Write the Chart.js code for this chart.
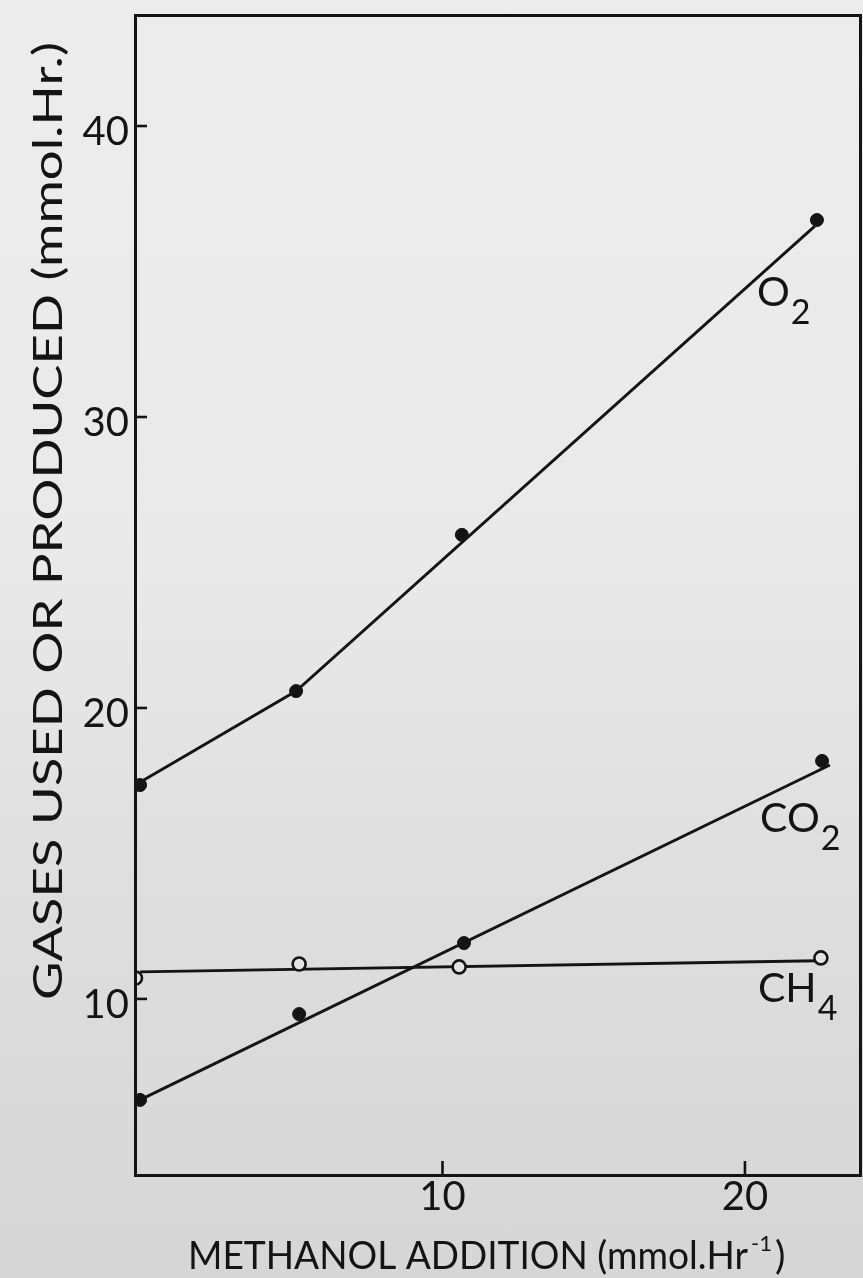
<!DOCTYPE html>
<html>
<head>
<meta charset="utf-8">
<script src="https://cdn.jsdelivr.net/npm/chart.js@4.4.1/dist/chart.umd.min.js"></script>
<style>
  html, body { margin: 0; padding: 0; }
  body {
    width: 863px; height: 1278px; overflow: hidden;
    background: linear-gradient(180deg, #ededed 0%, #e9e9e9 45%, #dedede 70%, #d6d6d6 100%);
  }
  #wrap { position: relative; width: 863px; height: 1278px; }
</style>
</head>
<body>
<div id="wrap"><canvas id="myChart" width="863" height="1278"></canvas></div>
<script>
// methanol addition (mmol.Hr-1) where each gas was measured
const o2_x = [0, 5.16, 10.64, 22.38]
const o2_y = [17.35, 20.58, 25.95, 36.77]
const co2_x = [0, 5.26, 10.71, 22.55]
const co2_y = [6.53, 9.48, 11.92, 18.18]
const ch4_x = [-0.15, 5.26, 10.55, 22.51]
const ch4_y = [10.72, 11.2, 11.1, 11.41]

// hand-drawn lines through the points
const o2_line_x = [0, 5.16, 22.31]
const o2_line_y = [17.45, 20.58, 36.56]
const co2_line_x = [0, 22.81]
const co2_line_y = [6.53, 18.04]
const ch4_line_x = [0, 22.4]
const ch4_line_y = [10.93, 11.31]

const x_ticks = [10, 20]
const y_ticks = [10, 20, 30, 40]
const x_title = "METHANOL ADDITION (mmol.Hr"
const y_title = "GASES USED OR PRODUCED (mmol.Hr.)"

const series_labels = [
    {text: "O", sub: "2", x: 20.4, y: 33.81},
    {text: "CO", sub: "2", x: 20.5, y: 15.74},
    {text: "CH", sub: "4", x: 20.43, y: 9.9},
]

const ink = '#141414'
const paper = '#e3e3e3'
const font_family = 'Lato, "Open Sans", sans-serif'

function to_points(xs, ys){
    return xs.map((x, i) => ({x: x, y: ys[i]}))
}

function line_set(xs, ys){
    return {
        type: 'line', data: to_points(xs, ys), borderColor: ink, borderWidth: 2.9,
        pointRadius: 0, fill: false, tension: 0, order: 2
    }
}

function point_set(xs, ys, open){
    return {
        type: 'scatter', data: to_points(xs, ys),
        pointRadius: 6.5,
        pointBackgroundColor: open ? paper : ink,
        pointBorderColor: ink, pointBorderWidth: open ? 2.6 : 1,
        order: 1
    }
}

// draw text squeezed or stretched to a given width
function fit_text(ctx, text, x, y, width){
    let w = ctx.measureText(text).width
    ctx.save()
    ctx.translate(x, y)
    ctx.scale(width / w, 1)
    ctx.fillText(text, 0, 0)
    ctx.restore()
}

const frame_plugin = {
    id: 'frame',
    afterDraw(chart){
        const ctx = chart.ctx
        const a = chart.chartArea
        const xs = chart.scales.x
        const ys = chart.scales.y
        ctx.save()
        ctx.strokeStyle = ink
        ctx.lineWidth = 3
        ctx.strokeRect(a.left + 1.5, a.top + 1.5, a.right - a.left - 3, a.bottom - a.top - 3)

        // inward tick marks and their labels
        ctx.lineWidth = 2.6
        ctx.fillStyle = ink
        ctx.textBaseline = 'alphabetic'
        ctx.font = '40px ' + font_family
        y_ticks.forEach((v) => {
            let py = ys.getPixelForValue(v)
            ctx.beginPath(); ctx.moveTo(a.left, py); ctx.lineTo(a.left + 13, py); ctx.stroke()
            ctx.textAlign = 'right'
            ctx.fillText(String(v), a.left - 5, py + 19)
        })
        x_ticks.forEach((v) => {
            let px = xs.getPixelForValue(v)
            ctx.beginPath(); ctx.moveTo(px, a.bottom); ctx.lineTo(px, a.bottom - 16); ctx.stroke()
            ctx.textAlign = 'center'
            ctx.fillText(String(v), px, a.bottom + 33)
        })

        // series labels with subscripts
        ctx.textAlign = 'left'
        series_labels.forEach((lab) => {
            let px = xs.getPixelForValue(lab.x)
            let py = ys.getPixelForValue(lab.y)
            ctx.font = '41px ' + font_family
            ctx.fillText(lab.text, px, py)
            let w = ctx.measureText(lab.text).width
            ctx.font = '34px ' + font_family
            ctx.fillText(lab.sub, px + w + 1, py + 18)
        })

        // x axis title with superscript
        ctx.font = '39px ' + font_family
        fit_text(ctx, x_title, 188, 1269, 560)
        ctx.font = '22px ' + font_family
        ctx.fillText("-1", 188 + 560 + 3, 1251)
        let w2 = ctx.measureText("-1").width
        ctx.font = '39px ' + font_family
        ctx.fillText(")", 188 + 560 + w2 + 6, 1269)

        // y axis title, bottom to top
        ctx.translate(62, 1000)
        ctx.rotate(-Math.PI / 2)
        ctx.font = '41px ' + font_family
        fit_text(ctx, y_title, 0, 0, 958)
        ctx.restore()
    }
}

function init(){
    let ctx = document.getElementById('myChart')
    let config = {
        type: 'scatter',
        data: {
            datasets: [
                line_set(o2_line_x, o2_line_y),
                line_set(co2_line_x, co2_line_y),
                line_set(ch4_line_x, ch4_line_y),
                point_set(o2_x, o2_y, false),
                point_set(co2_x, co2_y, false),
                point_set(ch4_x, ch4_y, true),
            ]
        },
        options: {
            responsive: false,
            animation: false,
            layout: {autoPadding: false, padding: {top: 14, right: 1, left: 0, bottom: 0}},
            plugins: {legend: {display: false}, tooltip: {enabled: false}},
            scales: {
                x: {
                    type: 'linear', min: -0.2, max: 23.87,
                    grid: {display: false, drawTicks: false},
                    border: {display: false},
                    afterFit: (scale) => { scale.height = 101 },
                    ticks: {display: false, stepSize: 10}
                },
                y: {
                    type: 'linear', min: 3.88, max: 43.85,
                    grid: {display: false, drawTicks: false},
                    border: {display: false},
                    afterFit: (scale) => { scale.width = 134 },
                    ticks: {display: false, stepSize: 10}
                }
            }
        },
        plugins: [frame_plugin]
    }
    new Chart(ctx, config)
}

init()
</script>
</body>
</html>
